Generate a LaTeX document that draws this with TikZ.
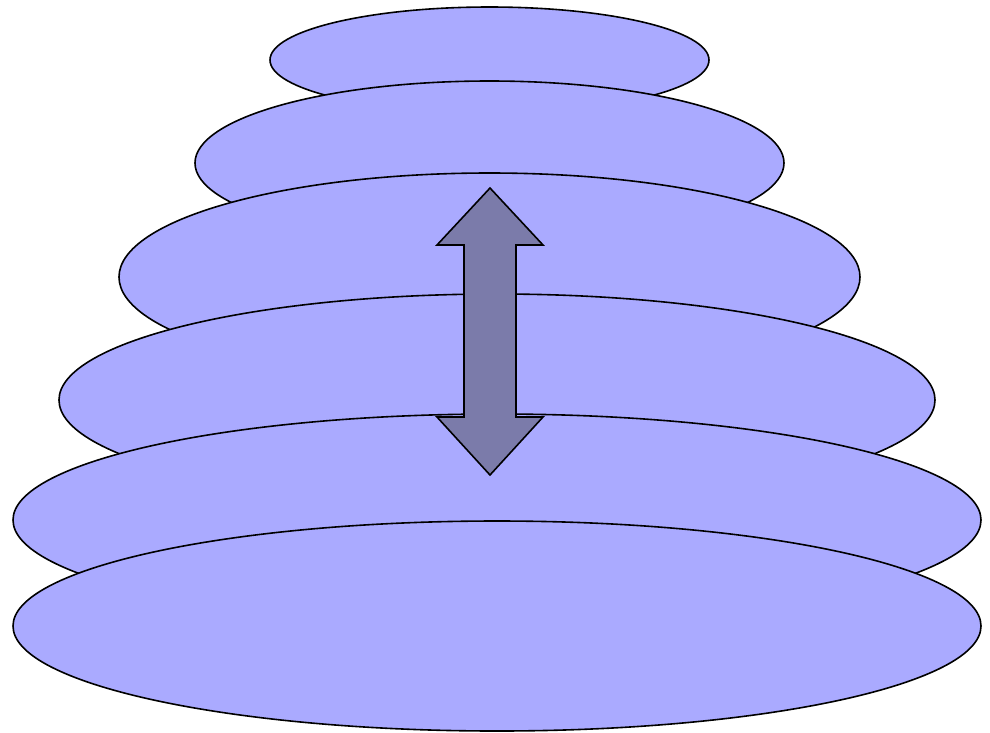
\documentclass[tikz,border=0pt]{standalone}
\usepackage{tikz}
\definecolor{layerblue}{HTML}{AAAAFF}
\definecolor{arrowslate}{HTML}{7B7BAA}

\begin{document}
\begin{tikzpicture}[x=1pt,y=-1pt,
  layer/.style={fill=layerblue, draw=black, line width=1.6pt},
  updown/.style={fill=arrowslate, draw=black, line width=1.6pt, line join=miter}]
  % units are reference pixels, y grows downwards
  \useasboundingbox (0,0) rectangle (990,732);
  \def\cx{490}

  % ---------- stacked layers, top to bottom ----------
  \foreach \x/\cy/\rx/\ry in {489.5/60/219.5/53, 489.5/163/294.5/82,
                              489.5/277/370.5/104, 497/400/438/106,
                              497/520/484/106, 497/626/484/105}
    \path[layer] (\x,\cy) ellipse [x radius=\rx pt, y radius=\ry pt];

  % ---------- double arrow across the layers ----------
  \path[updown] (\cx,188) -- (543,245) -- (516,245) -- (516,417)
    -- (543,417) -- (\cx,475) -- (437,417) -- (464,417)
    -- (464,245) -- (437,245) -- cycle;
\end{tikzpicture}
\end{document}
